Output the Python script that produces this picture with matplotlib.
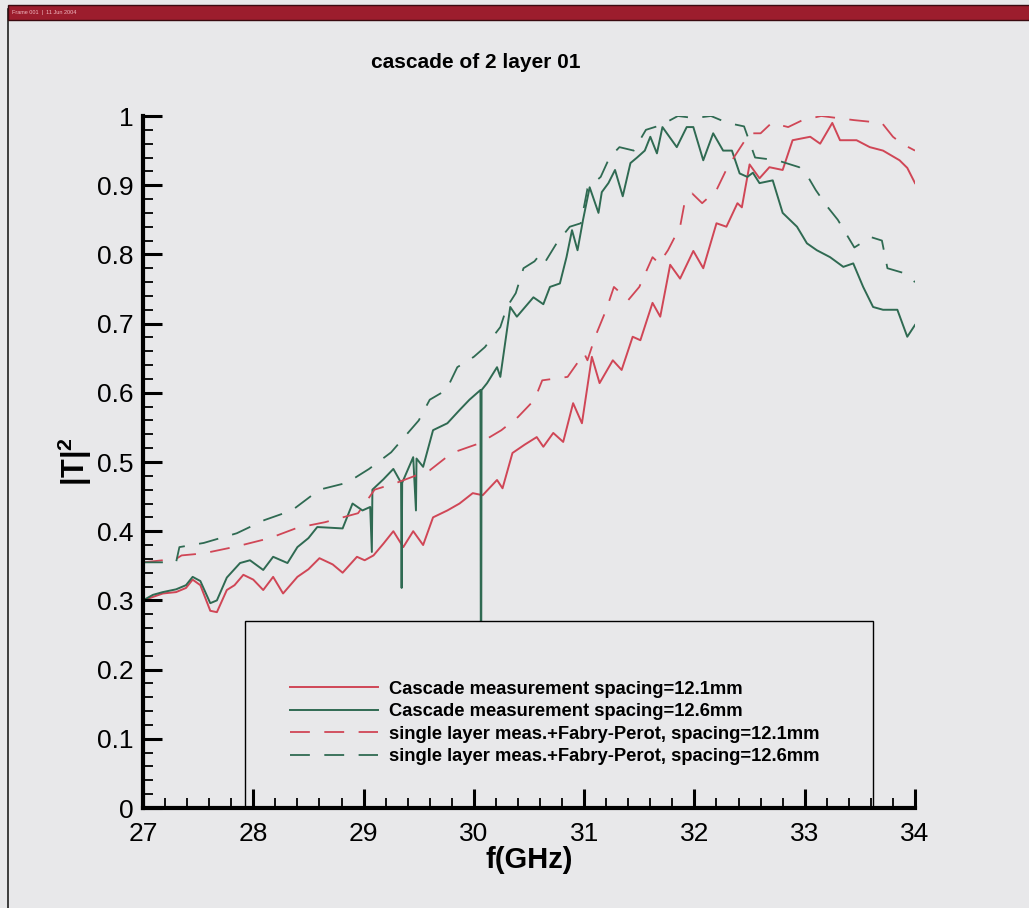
import matplotlib
matplotlib.use("Agg")
import matplotlib.pyplot as plt
import numpy as np
from matplotlib.patches import Rectangle

plt.rcParams['font.family'] = ['Liberation Sans', 'DejaVu Sans']
plt.rcParams['mathtext.fontset'] = 'custom'
plt.rcParams['mathtext.bf'] = 'Liberation Sans:bold'
plt.rcParams['mathtext.rm'] = 'Liberation Sans'

# cascade measurement, spacing 12.1 mm
f_c121 = [27.00, 27.09, 27.18, 27.30, 27.39, 27.45, 27.52, 27.61, 27.67, 27.76,
          27.83, 27.91, 28.00, 28.09, 28.18, 28.27, 28.40, 28.50, 28.60, 28.72,
          28.81, 28.94, 29.01, 29.09, 29.18, 29.27, 29.36, 29.45, 29.54, 29.63,
          29.76, 29.87, 29.99, 30.08, 30.21, 30.26, 30.35, 30.46, 30.57, 30.63,
          30.72, 30.81, 30.90, 30.98, 31.07, 31.14, 31.26, 31.34, 31.44, 31.51,
          31.62, 31.69, 31.78, 31.87, 31.99, 32.08, 32.20, 32.29, 32.39, 32.43,
          32.50, 32.59, 32.68, 32.80, 32.89, 33.05, 33.14, 33.25, 33.32, 33.47,
          33.59, 33.71, 33.86, 33.93, 34.00]
t_c121 = [0.300, 0.305, 0.310, 0.312, 0.318, 0.330, 0.322, 0.285, 0.283, 0.315,
          0.322, 0.337, 0.330, 0.315, 0.334, 0.310, 0.334, 0.345, 0.361, 0.352,
          0.340, 0.363, 0.358, 0.365, 0.382, 0.400, 0.377, 0.400, 0.380, 0.420,
          0.430, 0.440, 0.455, 0.452, 0.474, 0.462, 0.513, 0.525, 0.536, 0.522,
          0.542, 0.529, 0.585, 0.556, 0.652, 0.614, 0.647, 0.633, 0.681, 0.676,
          0.730, 0.710, 0.785, 0.765, 0.805, 0.780, 0.845, 0.840, 0.874, 0.868,
          0.930, 0.910, 0.926, 0.922, 0.965, 0.970, 0.960, 0.990, 0.965, 0.965,
          0.955, 0.950, 0.936, 0.925, 0.903]

# cascade measurement, spacing 12.6 mm
f_c126 = [27.00, 27.09, 27.18, 27.30, 27.39, 27.45, 27.52, 27.61, 27.67, 27.76,
          27.88, 27.97, 28.09, 28.18, 28.31, 28.40, 28.50, 28.58, 28.70, 28.81,
          28.90, 28.99, 29.06, 29.075, 29.08, 29.18, 29.27, 29.34, 29.345, 29.35,
          29.45, 29.475, 29.48, 29.54, 29.63, 29.76, 29.87, 29.96, 30.06, 30.065,
          30.07, 30.12, 30.21, 30.24, 30.33, 30.39, 30.54, 30.63, 30.69, 30.78,
          30.84, 30.89, 30.94, 30.99, 31.05, 31.13, 31.16, 31.22, 31.28, 31.35,
          31.42, 31.48, 31.55, 31.60, 31.66, 31.71, 31.84, 31.93, 31.99, 32.08,
          32.17, 32.26, 32.34, 32.41, 32.48, 32.53, 32.59, 32.71, 32.80, 32.93,
          33.02, 33.11, 33.23, 33.35, 33.44, 33.53, 33.62, 33.71, 33.84, 33.93,
          34.00]
t_c126 = [0.300, 0.308, 0.312, 0.316, 0.322, 0.334, 0.328, 0.296, 0.300, 0.333,
          0.354, 0.358, 0.344, 0.363, 0.354, 0.377, 0.390, 0.406, 0.405, 0.404,
          0.440, 0.430, 0.435, 0.370, 0.460, 0.475, 0.490, 0.470, 0.318, 0.470,
          0.507, 0.430, 0.505, 0.493, 0.546, 0.556, 0.575, 0.590, 0.604, 0.000,
          0.604, 0.614, 0.637, 0.623, 0.724, 0.710, 0.738, 0.728, 0.753, 0.758,
          0.796, 0.835, 0.806, 0.850, 0.897, 0.860, 0.890, 0.903, 0.922, 0.884,
          0.932, 0.940, 0.950, 0.970, 0.946, 0.984, 0.955, 0.984, 0.984, 0.936,
          0.975, 0.950, 0.950, 0.917, 0.912, 0.918, 0.903, 0.907, 0.860, 0.840,
          0.816, 0.806, 0.796, 0.782, 0.787, 0.753, 0.724, 0.720, 0.720, 0.681,
          0.698]

# single layer meas. + Fabry-Perot, spacing 12.1 mm
f_s121 = [27.00, 27.30, 27.35, 27.55, 27.85, 28.15, 28.40, 28.65, 28.95, 29.10,
          29.30, 29.60, 29.80, 30.05, 30.25, 30.40, 30.55, 30.62, 30.85, 31.00,
          31.03, 31.10, 31.20, 31.27, 31.40, 31.50, 31.62, 31.68, 31.76, 31.87,
          31.91, 31.98, 32.07, 32.20, 32.30, 32.50, 32.60, 32.70, 32.85, 32.98,
          33.15, 33.45, 33.70, 33.80, 33.88, 34.00]
t_s121 = [0.355, 0.360, 0.365, 0.368, 0.378, 0.390, 0.405, 0.413, 0.426, 0.460,
          0.470, 0.488, 0.513, 0.527, 0.546, 0.565, 0.590, 0.618, 0.623, 0.657,
          0.647, 0.681, 0.720, 0.753, 0.734, 0.753, 0.796, 0.787, 0.806, 0.840,
          0.874, 0.888, 0.874, 0.893, 0.926, 0.975, 0.975, 0.990, 0.984, 0.994,
          1.000, 0.994, 0.990, 0.970, 0.960, 0.950]

# single layer meas. + Fabry-Perot, spacing 12.6 mm
f_s126 = [27.00, 27.30, 27.33, 27.55, 27.85, 28.10, 28.35, 28.60, 28.85, 29.05,
          29.25, 29.50, 29.60, 29.75, 29.85, 30.00, 30.10, 30.24, 30.30, 30.38,
          30.45, 30.55, 30.60, 30.65, 30.75, 30.87, 30.97, 31.03, 31.15, 31.23,
          31.32, 31.45, 31.56, 31.70, 31.85, 32.00, 32.15, 32.30, 32.45, 32.55,
          32.75, 32.95, 33.03, 33.10, 33.20, 33.30, 33.45, 33.60, 33.70, 33.75,
          33.90, 34.00]
t_s126 = [0.355, 0.355, 0.377, 0.383, 0.397, 0.416, 0.430, 0.460, 0.470, 0.490,
          0.514, 0.560, 0.590, 0.604, 0.637, 0.652, 0.666, 0.695, 0.724, 0.744,
          0.780, 0.790, 0.800, 0.790, 0.816, 0.840, 0.845, 0.895, 0.912, 0.940,
          0.955, 0.950, 0.980, 0.987, 1.000, 0.997, 1.000, 0.990, 0.985, 0.940,
          0.936, 0.926, 0.912, 0.893, 0.870, 0.850, 0.810, 0.825, 0.820, 0.780,
          0.773, 0.760]

labels = ["Cascade measurement spacing=12.1mm",
          "Cascade measurement spacing=12.6mm",
          "single layer meas.+Fabry-Perot, spacing=12.1mm",
          "single layer meas.+Fabry-Perot, spacing=12.6mm"]

bg = "#e8e8ea"
red = "#d04656"
green = "#2f6a52"

fig = plt.figure(figsize=(10.29, 9.08), dpi=100, facecolor=bg)

# frame border and header bar
fig.patches.append(Rectangle((8 / 1029, -0.01), 1.02, 1.0, transform=fig.transFigure,
                             facecolor="none", edgecolor="#202020", lw=1.2))
fig.patches.append(Rectangle((8 / 1029, 1 - 20 / 908), 1.0, 15 / 908, transform=fig.transFigure,
                             facecolor="#9c1d2d", edgecolor="#3a0a10", lw=1.0))
fig.text(12 / 1029, 1 - 12.5 / 908, "Frame 001  |  11 Jun 2004", fontsize=4,
         color="#f0b8c0", va="center", ha="left")

ax = fig.add_axes([143 / 1029, 1 - 808 / 908, 772 / 1029, 692 / 908])
ax.set_facecolor(bg)
ax.set_axisbelow(False)

ax.plot(f_c121, t_c121, color=red, lw=1.4, label=labels[0], zorder=2)
ax.plot(f_c126, t_c126, color=green, lw=1.4, label=labels[1], zorder=2)
ax.plot(f_s121, t_s121, color=red, lw=1.3, dashes=(11, 8), label=labels[2], zorder=2)
ax.plot(f_s126, t_s126, color=green, lw=1.3, dashes=(11, 8), label=labels[3], zorder=2)

# legend box sits on top of the curves
ax.add_patch(Rectangle((27.925, 0), 33.618 - 27.925, 0.27, facecolor=bg,
                       edgecolor="black", lw=1.0, zorder=2.2))
leg = ax.legend(loc="upper left", bbox_to_anchor=(0.19, 0.184), frameon=False,
                prop={'weight': 'bold', 'size': 13.2}, handlelength=4.8,
                handletextpad=0.6, labelspacing=0.3, borderpad=0, borderaxespad=0)
leg.set_zorder(3)

ax.set_xlim(27, 34)
ax.set_ylim(0, 1)
ax.set_xticks(np.arange(27, 34.5, 1))
ax.set_xticks(np.arange(27, 34.01, 0.2), minor=True)
yt = np.round(np.arange(0, 1.01, 0.1), 1)
ax.set_yticks(yt)
ax.set_yticklabels(["0", "0.1", "0.2", "0.3", "0.4", "0.5", "0.6", "0.7", "0.8", "0.9", "1"])
ax.set_yticks(np.arange(0, 1.001, 0.02), minor=True)

for s in ["top", "right"]:
    ax.spines[s].set_visible(False)
for s in ["left", "bottom"]:
    ax.spines[s].set_linewidth(3)
ax.tick_params(which="major", direction="in", length=14, width=2.2, labelsize=19, pad=7)
ax.tick_params(which="minor", direction="in", length=7, width=1.3)
ax.tick_params(axis="x", which="major", pad=10)

ax.set_xlabel("f(GHz)", fontsize=21, fontweight="bold", labelpad=0)
ax.set_ylabel(r"$\mathbf{|T|^2}$", fontsize=22, labelpad=2)

fig.text(476 / 1029, 1 - 63 / 908, "cascade of 2 layer 01", fontsize=15,
         fontweight="bold", ha="center", va="center")

fig.savefig("out.png", dpi=100, facecolor=bg)
